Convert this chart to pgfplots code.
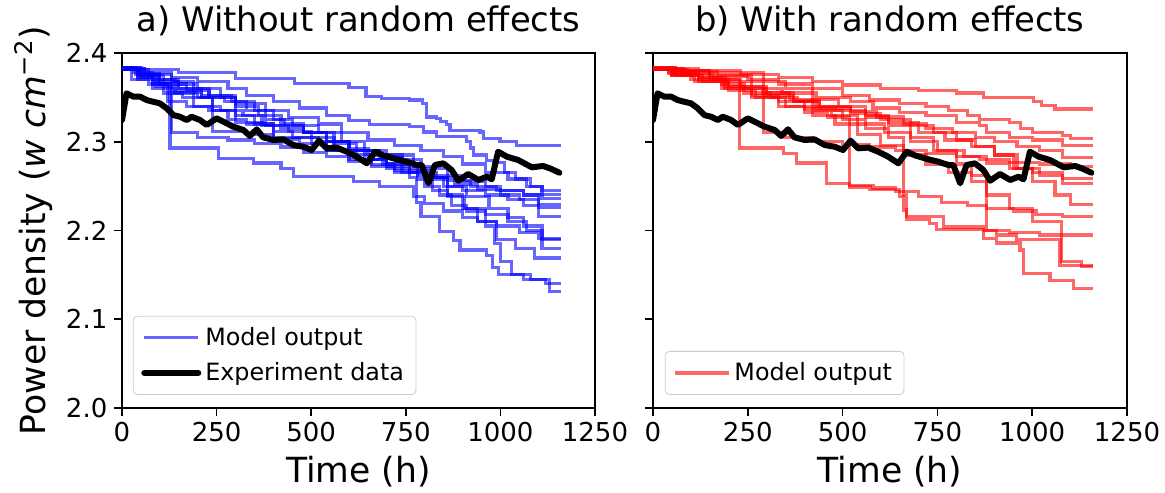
\documentclass[border=0pt]{standalone}
\usepackage{fontspec}
\setmainfont{DejaVu Sans}
\usepackage{pgfplots}
\pgfplotsset{compat=1.18}

\pgfplotsset{
  panel/.style={
    scale only axis, width=236.5pt, height=177.5pt,
    xmin=0, xmax=1250, ymin=2.0, ymax=2.4,
    xtick={0,250,500,750,1000,1250}, ytick={2.0,2.1,2.2,2.3,2.4},
    tick align=outside, tick pos=left, major tick length=3.8pt,
    every tick/.style={black, line width=0.8pt},
    axis line style={line width=0.8pt},
    /pgf/number format/assume math mode=true,
    /pgf/number format/1000 sep={},
    scaled ticks=false,
    yticklabel style={/pgf/number format/fixed,/pgf/number format/fixed zerofill,/pgf/number format/precision=1},
    tick label style={font=\fontsize{13}{15}\selectfont},
    label style={font=\fontsize{17.3}{20}\selectfont},
    title style={font=\fontsize{16.9}{20}\selectfont, yshift=-1pt},
    xlabel={Time (h)},
    legend cell align=left,
    legend style={draw=black!20, rounded corners=2pt, font=\fontsize{11.9}{14}\selectfont,
      inner xsep=4pt, inner ysep=3.5pt, row sep=3pt, anchor=south west},
    legend image code/.code={\draw[#1] (0pt,0pt) -- (27pt,0pt);},
  },
  mod/.style={const plot, line width=1.6pt, draw opacity=0.6},
  expd/.style={black, line width=3pt, line join=round, line cap=round},
}

\begin{document}
\begin{tikzpicture}
\path[use as bounding box] (-61pt,-42pt) rectangle (521.5pt,204pt);
\begin{axis}[panel, at={(0pt,0pt)}, title={a) Without random effects},
  ylabel={Power density (\textit{w cm}\textsuperscript{−2})},
  legend style={at={(0.023,0.037)}}]
\addplot[mod, blue] coordinates {(0,2.381)(150,2.378)(300,2.371)(455,2.366)(600,2.361)(645,2.351)(685,2.349)(760,2.347)(795,2.343)(805,2.328)(832,2.326)(841,2.323)(858,2.319)(867,2.313)(946,2.311)(955,2.304)(999,2.300)(1043,2.296)(1160,2.296)};
\addlegendentry{Model output}
\addplot[mod, blue, forget plot] coordinates {(0,2.382)(60,2.378)(130,2.372)(200,2.368)(280,2.360)(330,2.352)(400,2.345)(470,2.338)(540,2.330)(600,2.324)(655,2.319)(760,2.317)(796,2.311)(832,2.306)(911,2.300)(920,2.293)(928,2.285)(964,2.279)(981,2.277)(1010,2.265)(1040,2.258)(1080,2.250)(1110,2.245)(1160,2.245)};
\addplot[mod, blue, forget plot] coordinates {(0,2.382)(40,2.375)(90,2.368)(150,2.360)(230,2.352)(300,2.343)(380,2.335)(440,2.327)(520,2.320)(580,2.310)(650,2.302)(720,2.296)(790,2.290)(850,2.283)(900,2.275)(960,2.265)(1020,2.258)(1070,2.250)(1110,2.241)(1160,2.241)};
\addplot[mod, blue, forget plot] coordinates {(0,2.383)(25,2.370)(70,2.365)(110,2.355)(160,2.350)(190,2.340)(260,2.335)(320,2.330)(370,2.318)(420,2.315)(480,2.310)(560,2.300)(600,2.290)(680,2.285)(740,2.280)(790,2.270)(860,2.262)(900,2.255)(960,2.250)(1000,2.245)(1060,2.240)(1100,2.229)(1160,2.229)};
\addplot[mod, blue, forget plot] coordinates {(0,2.381)(50,2.372)(80,2.360)(140,2.356)(210,2.350)(240,2.335)(300,2.330)(350,2.320)(400,2.305)(500,2.298)(540,2.290)(600,2.286)(660,2.280)(700,2.272)(760,2.265)(830,2.260)(880,2.252)(940,2.246)(1000,2.240)(1050,2.235)(1100,2.226)(1160,2.226)};
\addplot[mod, blue, forget plot] coordinates {(0,2.383)(35,2.376)(100,2.365)(120,2.345)(170,2.340)(230,2.335)(280,2.325)(330,2.320)(400,2.312)(450,2.305)(520,2.300)(560,2.290)(620,2.280)(690,2.275)(740,2.265)(800,2.260)(850,2.250)(900,2.245)(960,2.240)(1020,2.235)(1060,2.228)(1100,2.216)(1160,2.216)};
\addplot[mod, blue, forget plot] coordinates {(0,2.382)(40,2.372)(80,2.365)(127,2.293)(254,2.281)(347,2.276)(420,2.270)(453,2.261)(611,2.255)(680,2.250)(770,2.238)(800,2.230)(850,2.222)(900,2.215)(940,2.210)(990,2.205)(1050,2.198)(1100,2.191)(1160,2.191)};
\addplot[mod, blue, forget plot] coordinates {(0,2.381)(40,2.370)(90,2.362)(140,2.355)(200,2.350)(270,2.345)(330,2.335)(380,2.325)(430,2.318)(480,2.310)(540,2.300)(600,2.290)(640,2.280)(700,2.270)(780,2.262)(800,2.250)(840,2.240)(870,2.228)(910,2.222)(960,2.218)(1020,2.210)(1070,2.200)(1110,2.180)(1160,2.180)};
\addplot[mod, blue, forget plot] coordinates {(0,2.383)(50,2.374)(100,2.366)(130,2.310)(200,2.305)(280,2.302)(350,2.298)(420,2.294)(480,2.288)(540,2.283)(600,2.278)(660,2.274)(720,2.265)(780,2.258)(820,2.245)(860,2.238)(905,2.225)(940,2.210)(990,2.190)(1040,2.180)(1090,2.169)(1160,2.169)};
\addplot[mod, blue, forget plot] coordinates {(0,2.382)(60,2.375)(110,2.365)(170,2.358)(230,2.350)(300,2.340)(360,2.330)(420,2.320)(480,2.310)(540,2.300)(600,2.292)(650,2.285)(700,2.275)(760,2.260)(779,2.232)(790,2.216)(840,2.199)(876,2.189)(893,2.178)(964,2.172)(980,2.158)(995,2.150)(1060,2.145)(1120,2.140)(1160,2.140)};
\addplot[mod, blue, forget plot] coordinates {(0,2.383)(45,2.377)(100,2.370)(150,2.360)(210,2.352)(290,2.345)(350,2.335)(400,2.325)(450,2.318)(520,2.310)(580,2.300)(640,2.290)(700,2.285)(770,2.272)(820,2.260)(860,2.240)(900,2.225)(960,2.205)(985,2.185)(1000,2.165)(1030,2.150)(1080,2.145)(1130,2.131)(1160,2.131)};
\addplot[mod, blue, forget plot] coordinates {(0,2.381)(70,2.376)(130,2.368)(190,2.350)(240,2.312)(330,2.308)(400,2.303)(470,2.298)(540,2.290)(600,2.280)(660,2.272)(720,2.268)(800,2.262)(860,2.256)(920,2.250)(990,2.245)(1060,2.240)(1110,2.236)(1160,2.236)};
\addplot[mod, blue, forget plot] coordinates {(0,2.382)(30,2.378)(80,2.370)(140,2.365)(200,2.360)(260,2.350)(300,2.322)(380,2.318)(440,2.312)(500,2.305)(560,2.298)(620,2.290)(680,2.282)(740,2.275)(780,2.268)(820,2.258)(860,2.250)(910,2.238)(970,2.225)(1020,2.215)(1060,2.205)(1110,2.190)(1160,2.190)};
\addplot[expd] coordinates {(0,2.3245)(12,2.3546)(30,2.3508)(48,2.3508)(65,2.347)(83,2.345)(100,2.3433)(118,2.3377)(136,2.330)(153,2.3282)(171,2.3245)(184,2.3282)(206,2.3245)(224,2.3189)(250,2.3264)(268,2.3226)(294,2.317)(321,2.3132)(338,2.3065)(356,2.314)(373,2.305)(400,2.302)(426,2.3027)(453,2.2963)(479,2.2944)(501,2.2907)(521,2.3012)(541,2.2926)(567,2.2934)(594,2.2888)(620,2.2832)(647,2.2757)(669,2.2888)(691,2.2846)(726,2.2802)(752,2.2775)(779,2.2738)(792,2.2738)(810,2.2532)(827,2.2738)(849,2.2757)(871,2.2682)(889,2.2561)(915,2.2637)(942,2.2569)(964,2.2606)(977,2.2577)(994,2.2888)(1017,2.2832)(1047,2.2794)(1083,2.2712)(1113,2.2727)(1131,2.27)(1156,2.2651)};
\addlegendentry{Experiment data}
\end{axis}

\begin{axis}[panel, at={(265.5pt,0pt)}, width=237pt, title={b) With random effects},
  yticklabels={}, legend style={at={(0.025,0.037)}}]
\addplot[mod, red] coordinates {(0,2.382)(120,2.380)(230,2.376)(330,2.372)(420,2.368)(500,2.364)(600,2.360)(700,2.358)(800,2.355)(871,2.350)(1003,2.345)(1025,2.341)(1060,2.337)(1160,2.337)};
\addlegendentry{Model output}
\addplot[mod, red, forget plot] coordinates {(0,2.383)(60,2.380)(150,2.375)(250,2.370)(330,2.365)(420,2.360)(500,2.352)(570,2.347)(650,2.343)(720,2.340)(780,2.335)(830,2.330)(860,2.325)(940,2.322)(970,2.315)(1000,2.310)(1080,2.307)(1100,2.304)(1160,2.304)};
\addplot[mod, red, forget plot] coordinates {(0,2.381)(40,2.378)(120,2.372)(190,2.368)(260,2.360)(340,2.355)(430,2.350)(520,2.345)(580,2.338)(650,2.333)(720,2.330)(800,2.322)(860,2.318)(880,2.310)(940,2.305)(1000,2.302)(1080,2.296)(1160,2.296)};
\addplot[mod, red, forget plot] coordinates {(0,2.382)(80,2.377)(150,2.370)(200,2.362)(240,2.355)(310,2.350)(380,2.346)(440,2.340)(520,2.334)(590,2.328)(660,2.320)(720,2.315)(790,2.310)(850,2.305)(900,2.300)(960,2.295)(1020,2.290)(1080,2.282)(1160,2.282)};
\addplot[mod, red, forget plot] coordinates {(0,2.383)(50,2.376)(110,2.368)(180,2.360)(260,2.350)(330,2.340)(400,2.333)(460,2.328)(519,2.251)(580,2.248)(640,2.244)(700,2.238)(760,2.232)(830,2.228)(880,2.225)(950,2.222)(1010,2.218)(1080,2.216)(1160,2.216)};
\addplot[mod, red, forget plot] coordinates {(0,2.382)(60,2.380)(150,2.378)(291,2.310)(348,2.305)(420,2.300)(500,2.297)(570,2.294)(640,2.290)(720,2.287)(800,2.283)(860,2.280)(940,2.277)(1020,2.275)(1100,2.272)(1160,2.272)};
\addplot[mod, red, forget plot] coordinates {(0,2.381)(50,2.375)(120,2.368)(190,2.360)(260,2.352)(330,2.345)(400,2.337)(470,2.330)(540,2.320)(610,2.310)(680,2.300)(750,2.290)(820,2.283)(880,2.276)(940,2.270)(1000,2.265)(1080,2.259)(1160,2.259)};
\addplot[mod, red, forget plot] coordinates {(0,2.382)(50,2.378)(120,2.372)(180,2.365)(240,2.360)(300,2.352)(370,2.345)(440,2.338)(520,2.332)(600,2.325)(680,2.318)(740,2.310)(800,2.302)(850,2.295)(900,2.285)(960,2.270)(1020,2.262)(1080,2.253)(1160,2.253)};
\addplot[mod, red, forget plot] coordinates {(0,2.381)(90,2.376)(160,2.370)(230,2.362)(300,2.355)(360,2.348)(420,2.340)(480,2.335)(560,2.328)(620,2.322)(700,2.310)(770,2.302)(840,2.295)(900,2.285)(950,2.270)(1000,2.255)(1060,2.240)(1100,2.229)(1160,2.229)};
\addplot[mod, red, forget plot] coordinates {(0,2.382)(80,2.379)(170,2.374)(260,2.368)(350,2.360)(420,2.348)(490,2.340)(560,2.330)(620,2.318)(680,2.305)(740,2.290)(800,2.275)(840,2.262)(880,2.200)(940,2.198)(1020,2.195)(1160,2.195)};
\addplot[mod, red, forget plot] coordinates {(0,2.382)(40,2.377)(100,2.370)(190,2.362)(290,2.355)(370,2.345)(430,2.335)(500,2.325)(560,2.315)(620,2.305)(660,2.240)(669,2.216)(766,2.204)(871,2.200)(906,2.195)(958,2.190)(1073,2.161)(1160,2.161)};
\addplot[mod, red, forget plot] coordinates {(0,2.383)(60,2.375)(130,2.368)(200,2.358)(270,2.350)(350,2.340)(420,2.330)(480,2.320)(540,2.308)(600,2.296)(660,2.285)(720,2.275)(780,2.265)(840,2.255)(880,2.240)(940,2.225)(1000,2.210)(1078,2.165)(1130,2.159)(1160,2.159)};
\addplot[mod, red, forget plot] coordinates {(0,2.382)(50,2.375)(120,2.370)(229,2.293)(344,2.287)(379,2.276)(458,2.253)(519,2.249)(572,2.246)(651,2.238)(660,2.223)(669,2.212)(730,2.208)(748,2.201)(871,2.191)(906,2.186)(968,2.178)(977,2.152)(1047,2.144)(1108,2.135)(1160,2.135)};
\addplot[expd, forget plot] coordinates {(0,2.3245)(12,2.3546)(30,2.3508)(48,2.3508)(65,2.347)(83,2.345)(100,2.3433)(118,2.3377)(136,2.330)(153,2.3282)(171,2.3245)(184,2.3282)(206,2.3245)(224,2.3189)(250,2.3264)(268,2.3226)(294,2.317)(321,2.3132)(338,2.3065)(356,2.314)(373,2.305)(400,2.302)(426,2.3027)(453,2.2963)(479,2.2944)(501,2.2907)(521,2.3012)(541,2.2926)(567,2.2934)(594,2.2888)(620,2.2832)(647,2.2757)(669,2.2888)(691,2.2846)(726,2.2802)(752,2.2775)(779,2.2738)(792,2.2738)(810,2.2532)(827,2.2738)(849,2.2757)(871,2.2682)(889,2.2561)(915,2.2637)(942,2.2569)(964,2.2606)(977,2.2577)(994,2.2888)(1017,2.2832)(1047,2.2794)(1083,2.2712)(1113,2.2727)(1131,2.27)(1156,2.2651)};
\end{axis}
\end{tikzpicture}
\end{document}
